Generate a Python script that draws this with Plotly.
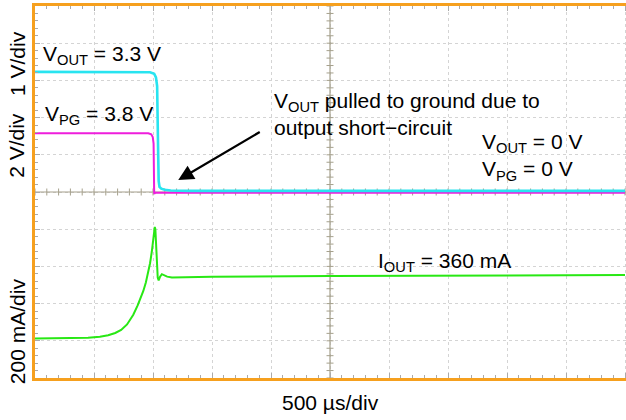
import numpy as np
import plotly.graph_objects as go

# scope settings (per division)
T_DIV = 500        # us/div
VOUT_DIV = 1.0     # V/div, ground at 0 div
VPG_DIV = 2.0      # V/div, ground at 0 div
IOUT_DIV = 200.0   # mA/div
IOUT_GND = -4.0    # div

# traces
vout_t = [0, 900, 975, 1010, 1025, 1035, 1040, 1044, 1048, 1055, 1070, 1100, 1150, 1300, 5000]
vout_v = [3.23, 3.23, 3.22, 3.18, 3.08, 2.85, 2.2, 1.0, 0.3, 0.14, 0.09, 0.06, 0.04, 0.03, 0.03]

vpg_t = [0, 960, 985, 998, 1005, 1008, 1010, 1020, 5000]
vpg_v = [3.16, 3.16, 3.1, 2.95, 2.6, 1.5, -0.1, -0.04, -0.04]

iout_t = [0, 300, 450, 550, 620, 680, 730, 780, 833, 870, 900, 918, 940, 960, 975, 990,
          1005, 1015, 1020, 1025, 1032, 1040, 1048, 1060, 1075, 1095, 1120, 1160, 1250,
          1500, 2500, 3500, 5000]
iout_ma = [13, 14, 16, 22, 30, 42, 58, 88, 140, 190, 235, 268, 315, 372, 417, 480,
           560, 612, 600, 540, 440, 340, 325, 345, 358, 352, 345, 340, 342,
           345, 348, 350, 354]

cyan = "rgb(40,228,240)"
magenta = "rgb(238,30,220)"
green = "rgb(40,232,20)"
orange = "rgb(246,160,30)"
grey = "rgb(165,160,140)"
font = "Liberation Sans, Arial, sans-serif"

# plot area runs a few px past the window so the right frame edge is cut off
W, L, PLOT_W = 632, 35, 597
X_MAX = 5000 * PLOT_W / 590

fig = go.Figure()

# centre crosshair with small ticks
fig.add_trace(go.Scatter(x=[0, X_MAX], y=[0, 0], mode="lines",
                         line=dict(color=grey, width=1.2), hoverinfo="skip"))
fig.add_trace(go.Scatter(x=[2500, 2500], y=[-5, 5], mode="lines",
                         line=dict(color=grey, width=1.2), hoverinfo="skip"))
tx = np.arange(0, 5001, 100)
fig.add_trace(go.Scatter(x=tx, y=np.zeros(len(tx)), mode="markers",
                         marker=dict(symbol="line-ns-open", size=5, color=grey,
                                     line=dict(color=grey, width=1)),
                         hoverinfo="skip"))
ty = np.arange(-5, 5.01, 0.2)
fig.add_trace(go.Scatter(x=np.full(len(ty), 2500), y=ty, mode="markers",
                         marker=dict(symbol="line-ew-open", size=5, color=grey,
                                     line=dict(color=grey, width=1)),
                         hoverinfo="skip"))

fig.add_trace(go.Scatter(x=iout_t, y=np.array(iout_ma) / IOUT_DIV + IOUT_GND, mode="lines",
                         line=dict(color=green, width=2), name="IOUT"))
fig.add_trace(go.Scatter(x=vpg_t, y=np.array(vpg_v) / VPG_DIV, mode="lines",
                         line=dict(color=magenta, width=2), name="VPG"))
fig.add_trace(go.Scatter(x=vout_t, y=np.array(vout_v) / VOUT_DIV, mode="lines",
                         line=dict(color=cyan, width=2.6), name="VOUT"))

txt = dict(size=21, color="black", family=font)
ann = [
    dict(x=50, y=3.68, text="V<sub>OUT</sub> = 3.3 V"),
    dict(x=66, y=2.06, text="V<sub>PG</sub> = 3.8 V"),
    dict(x=2010, y=2.1, text="V<sub>OUT</sub> pulled to ground due to<br>output short\u2212circuit"),
    dict(x=3770, y=0.93, text="V<sub>OUT</sub> = 0 V<br>V<sub>PG</sub> = 0 V"),
    dict(x=2890, y=-1.88, text="I<sub>OUT</sub> = 360 mA"),
]
for a in ann:
    fig.add_annotation(xref="x", yref="y", xanchor="left", yanchor="middle", align="left",
                       showarrow=False, font=txt, **a)

# arrow to the collapsed output
fig.add_annotation(xref="x", yref="y", x=1214, y=0.32, ax=83, ay=-49, text="",
                   showarrow=True, arrowhead=2, arrowsize=1.4, arrowwidth=2.2,
                   arrowcolor="black")

# channel scale labels (paper x chosen so centre sits at ~17 px)
lx = (17 - L) / PLOT_W
for y, t in [(3.44, "1 V/div"), (1.24, "2 V/div"), (-3.74, "200 mA/div")]:
    fig.add_annotation(xref="paper", yref="y", x=lx, y=y, text=t, textangle=-90,
                       xanchor="center", yanchor="middle",
                       showarrow=False, font=dict(size=21, color="black", family=font))
fig.add_annotation(xref="x", yref="paper", x=2500, y=-0.065, text="500 \u00b5s/div",
                   xanchor="center", yanchor="middle",
                   showarrow=False, font=dict(size=21, color="black", family=font))

fig.update_layout(
    width=W, height=420,
    margin=dict(l=L, r=0, t=6, b=42),
    paper_bgcolor="white", plot_bgcolor="white",
    showlegend=False,
)
fig.update_xaxes(range=[0, X_MAX], tick0=0, dtick=T_DIV, showticklabels=False,
                 showgrid=True, gridcolor="rgb(212,212,212)", griddash="dot", gridwidth=1,
                 zeroline=False, showline=True, linecolor=orange, linewidth=2.5,
                 mirror="allticks", ticks="inside", ticklen=5, tickcolor="rgb(170,170,170)",
                 minor=dict(dtick=100, ticks="inside", ticklen=3, tickcolor="rgb(170,170,170)",
                            showgrid=False))
fig.update_yaxes(range=[-5, 5], dtick=1, showticklabels=False,
                 showgrid=True, gridcolor="rgb(212,212,212)", griddash="dot", gridwidth=1,
                 zeroline=False, showline=True, linecolor=orange, linewidth=2.5,
                 ticks="inside", ticklen=5, tickcolor="rgb(170,170,170)",
                 minor=dict(dtick=0.2, ticks="inside", ticklen=3, tickcolor="rgb(170,170,170)",
                            showgrid=False))

fig.write_html("out.html", config={"displayModeBar": False},
               post_script="document.body.style.margin='0';"
                           "document.body.style.overflow='hidden';"
                           "document.documentElement.style.overflow='hidden';")
